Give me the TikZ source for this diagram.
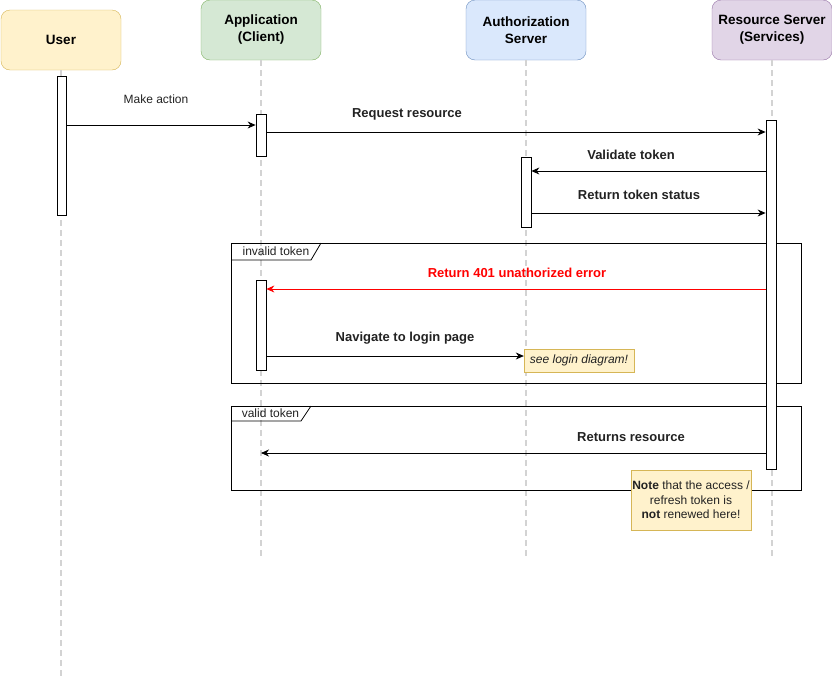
\documentclass[tikz,border=0pt]{standalone}
\usepackage{fontspec}
\setmainfont{Liberation Sans}
\usetikzlibrary{arrows.meta}

\definecolor{userfill}{HTML}{FFF2CC}
\definecolor{userline}{HTML}{D6B656}
\definecolor{appfill}{HTML}{D5E8D4}
\definecolor{appline}{HTML}{82B366}
\definecolor{authfill}{HTML}{DAE8FC}
\definecolor{authline}{HTML}{6C8EBF}
\definecolor{resfill}{HTML}{E1D5E7}
\definecolor{resline}{HTML}{9673A6}
\definecolor{lifegray}{HTML}{D3D3D3}
\definecolor{txtgray}{HTML}{222222}

\tikzset{
  actor/.style={draw, rounded corners=9pt, minimum width=120pt, minimum height=60pt,
    inner sep=0pt, align=center, font=\fontsize{13.5}{17}\selectfont\bfseries},
  lifeline/.style={lifegray, line width=1.5pt, dash pattern=on 6pt off 4pt},
  activ/.style={draw, fill=white, minimum width=10pt, inner sep=0pt, line width=0.8pt},
  msg/.style={line width=0.8pt, -{Stealth[length=8pt,width=7pt]}},
  msglabel/.style={font=\fontsize{13}{15}\selectfont\bfseries, text=txtgray},
  framebox/.style={draw, line width=0.8pt},
  tablabel/.style={font=\fontsize{12}{14}\selectfont, text=txtgray},
  notebox/.style={draw=userline, fill=userfill, inner sep=0pt, align=center,
    font=\fontsize{12}{14.5}\selectfont, text=txtgray}
}

\begin{document}
\begin{tikzpicture}[x=1pt, y=-1pt]
\useasboundingbox (0,0) rectangle (832,678);

%TEILNEHMER
\node[actor, fill=userfill, draw=userline] (user) at (61,40) {User};
\node[actor, fill=appfill, draw=appline] (app) at (261,30) {Application\\(Client)};
\node[actor, fill=authfill, draw=authline] (auth) at (526,30) {Authorization\\Server};
\node[actor, fill=resfill, draw=resline] (res) at (772,30) {Resource Server\\(Services)};

%LEBENSLINIEN
\draw[lifeline] (user.south) -- (user |- 0,678);
\draw[lifeline] (app.south) -- (app |- 0,560);
\draw[lifeline] (auth.south) -- (auth |- 0,560);
\draw[lifeline] (res.south) -- (res |- 0,560);

%RAHMEN: INVALID TOKEN
\draw[framebox] (231,243) rectangle (801,383);
\draw[framebox] (231,260) -- (311,260) -- (321,243);
\node[tablabel] (tabinvalid) at (276,251.5) {invalid token};

%RAHMEN: VALID TOKEN
\draw[framebox] (231,406) rectangle (801,490);
\draw[framebox] (231,421) -- (301,421) -- (311,406);
\node[tablabel] (tabvalid) at (270.5,413.5) {valid token};

%AKTIVIERUNGEN
\node[activ, minimum width=9pt, minimum height=139pt] (actU) at (61.5,145.5) {};
\node[activ, minimum height=42pt] (actA1) at (261,135) {};
\node[activ, minimum height=70pt] (actAS) at (526,192) {};
\node[activ, minimum height=349pt] (actR) at (771,294.5) {};
\node[activ, minimum height=90pt] (actA2) at (261,325) {};

%NACHRICHTEN
\draw[msg] (actU.east |- 0,125) -- (actA1.west |- 0,125);
\node[font=\fontsize{12}{14}\selectfont, text=txtgray] (lblaction) at (156,99) {Make action};

\draw[msg] (actA1.east |- 0,132) -- (actR.west |- 0,132);
\node[msglabel] (lblrequest) at (407,114) {Request resource};

\draw[msg] (actR.west |- 0,171) -- (actAS.east |- 0,171);
\node[msglabel] (lblvalidate) at (631,155) {Validate token};

\draw[msg] (actAS.east |- 0,213) -- (actR.west |- 0,213);
\node[msglabel] (lblstatus) at (639,195) {Return token status};

\draw[msg, red] (actR.west |- 0,289) -- (actA2.east |- 0,289);
\node[msglabel, text=red] (lblerror) at (517,273) {Return 401 unathorized error};

\node[notebox, minimum width=110pt, minimum height=23pt] (seelogin) at (579,360.5) {\itshape see login diagram!};
\draw[msg] (actA2.east |- 0,356) -- (seelogin.west |- 0,356);
\node[msglabel] (lblnavigate) at (405,338) {Navigate to login page};

\draw[msg] (actR.west |- 0,453) -- (app |- 0,453);
\node[msglabel] (lblreturns) at (631,437) {Returns resource};

%NOTIZ
\node[notebox, minimum width=120pt, minimum height=60pt] (note) at (691,500)
  {\textbf{Note} that the access /\\refresh token is\\\textbf{not} renewed here!};

\end{tikzpicture}
\end{document}
